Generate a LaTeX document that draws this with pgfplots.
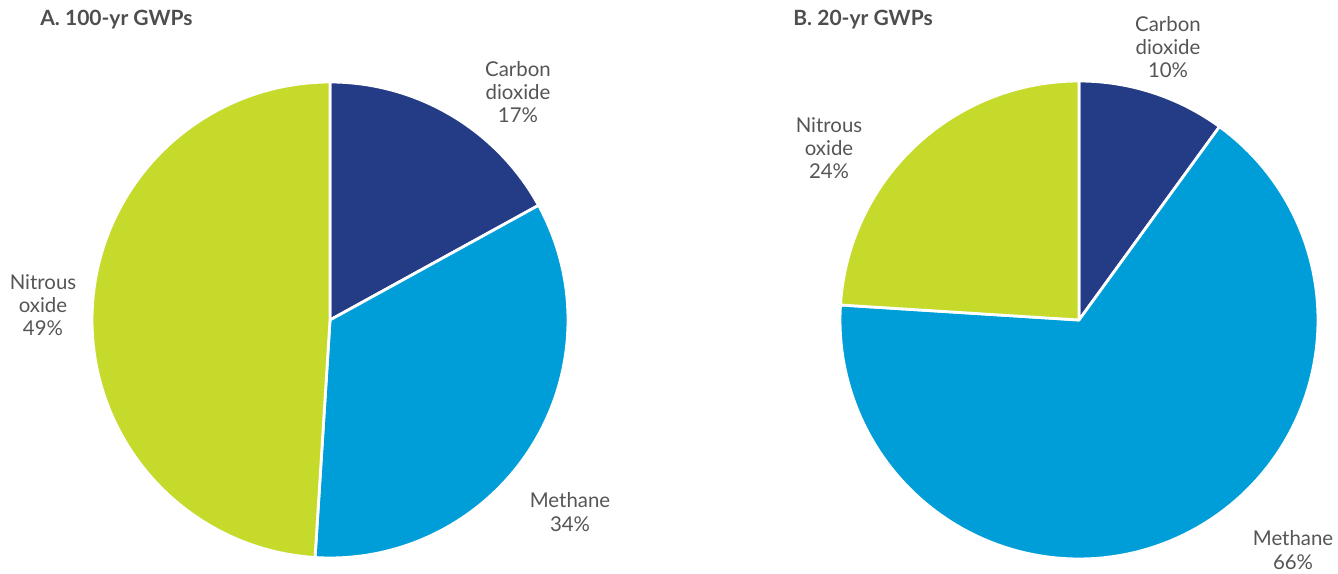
\documentclass[border=0pt]{standalone}
\usepackage{pgfplots}
\pgfplotsset{compat=1.18}
\usepackage{fontspec}
\setmainfont{Lato}
\definecolor{cnavy}{HTML}{243B85}
\definecolor{cblue}{HTML}{009ED9}
\definecolor{cgreen}{HTML}{C6DA2C}
\definecolor{ctext}{HTML}{555555}
\tikzset{lbl/.style={font=\fontsize{10.2}{11.6}\selectfont, text=ctext, align=center, inner sep=0pt},
  ttl/.style={anchor=west, font=\fontsize{10.5}{12}\selectfont\bfseries, text=ctext!92!black, inner sep=0pt}}
\begin{document}
\begin{tikzpicture}
\begin{axis}[
  width=669pt, height=286.5pt, scale only axis,
  xmin=0, xmax=1338, ymin=0, ymax=573,
  hide axis, clip=false,
]
% Pie A: centre (330,253), radius 238; values in percent (CO2 17, CH4 34, N2O 49)
\addplot[fill=cnavy, draw=white, line width=1.4pt, line join=round, domain=0:17, samples=60]
  ({330+238*sin(3.6*x)},{253+238*cos(3.6*x)}) -- (axis cs:330,253) -- cycle;
\addplot[fill=cblue, draw=white, line width=1.4pt, line join=round, domain=17:51, samples=80]
  ({330+238*sin(3.6*x)},{253+238*cos(3.6*x)}) -- (axis cs:330,253) -- cycle;
\addplot[fill=cgreen, draw=white, line width=1.4pt, line join=round, domain=51:100, samples=100]
  ({330+238*sin(3.6*x)},{253+238*cos(3.6*x)}) -- (axis cs:330,253) -- cycle;
% Pie B: centre (1079,253), radius 239; values in percent (CO2 10, CH4 66, N2O 24)
\addplot[fill=cnavy, draw=white, line width=1.4pt, line join=round, domain=0:10, samples=40]
  ({1079+239*sin(3.6*x)},{253+239*cos(3.6*x)}) -- (axis cs:1079,253) -- cycle;
\addplot[fill=cblue, draw=white, line width=1.4pt, line join=round, domain=10:76, samples=130]
  ({1079+239*sin(3.6*x)},{253+239*cos(3.6*x)}) -- (axis cs:1079,253) -- cycle;
\addplot[fill=cgreen, draw=white, line width=1.4pt, line join=round, domain=76:100, samples=60]
  ({1079+239*sin(3.6*x)},{253+239*cos(3.6*x)}) -- (axis cs:1079,253) -- cycle;
% titles
\node[ttl] at (axis cs:40,553) {A. 100-yr GWPs};
\node[ttl] at (axis cs:793,553) {B. 20-yr GWPs};
% labels
\node[lbl] at (axis cs:518,481) {Carbon\\dioxide\\17\%};
\node[lbl] at (axis cs:43,268) {Nitrous\\oxide\\49\%};
\node[lbl] at (axis cs:570,61) {Methane\\34\%};
\node[lbl] at (axis cs:1168,526) {Carbon\\dioxide\\10\%};
\node[lbl] at (axis cs:829,425) {Nitrous\\oxide\\24\%};
\node[lbl] at (axis cs:1293,23) {Methane\\66\%};
\end{axis}
\pgfresetboundingbox
\path (current axis.south west) rectangle (current axis.north east);
\end{tikzpicture}
\end{document}
